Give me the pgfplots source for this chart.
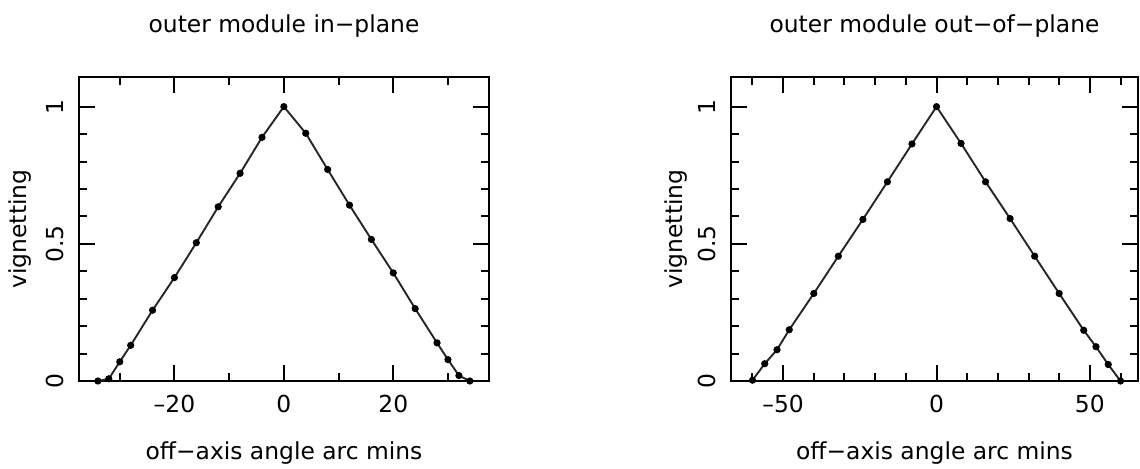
\documentclass[border=0pt]{standalone}
\usepackage{fontspec}
\setmainfont{DejaVu Sans}
\usepackage{pgfplots}
\pgfplotsset{compat=1.18}
\begin{document}
\begin{tikzpicture}
\path[use as bounding box] (0,0) rectangle (570pt,234pt);
\pgfplotsset{
 vig/.style={
  scale only axis, height=152pt, ymin=0, ymax=1.108,
  ytick={0,0.5,1}, yticklabels={0,0.5,1},
  minor ytick={0.1,0.2,0.3,0.4,0.6,0.7,0.8,0.9},
  tick align=inside, major tick length=8pt, minor tick length=4pt,
  every tick/.style={black,line width=1pt},
  axis line style={line width=1pt},
  font=\fontsize{11.7}{14}\selectfont,
  tick label style={font=\fontsize{11.7}{14}\selectfont, inner sep=0pt},
  yticklabel style={rotate=90, anchor=south},
  xticklabel style={anchor=north},
  xticklabel shift=7pt, yticklabel shift=7.5pt,
  title style={at={(axis description cs:0.5,1.108)}, anchor=base, yshift=0pt},
  xlabel style={at={(axis description cs:0.5,-0.2566)}, anchor=base},
  xlabel={off−axis angle arc mins},
  ylabel={vignetting},
  clip=false,
 },
 vigline/.style={black!85, line width=0.95pt, mark=*, mark size=1.3pt, mark options={solid, black}},
}
\begin{axis}[vig, at={(39.5pt,43.5pt)}, anchor=south west, width=205pt,
  xmin=-37.45, xmax=37.5,
  xtick={-20,0,20}, xticklabels={\textendash20,0,20},
  minor xtick={-30,-10,10,30},
  title={outer module in−plane},
  ylabel style={at={(axis description cs:-0.144,0.5)}, anchor=center}]
\addplot[vigline] coordinates {
(-34,0) (-32,0.008) (-30,0.07) (-28,0.13) (-24,0.258) (-20,0.377) (-16,0.504)
(-12,0.635) (-8,0.757) (-4,0.888) (0,1) (4,0.903) (8,0.771) (12,0.641)
(16,0.516) (20,0.394) (24,0.264) (28,0.139) (30,0.078) (32,0.02) (34,0)};
\end{axis}
\begin{axis}[vig, at={(365.5pt,43.5pt)}, anchor=south west, width=203.5pt,
  xmin=-67, xmax=65.7,
  xtick={-50,0,50}, xticklabels={\textendash50,0,50},
  minor xtick={-60,-40,-30,-20,-10,10,20,30,40,60},
  title={outer module out−of−plane},
  ylabel style={at={(axis description cs:-0.135,0.5)}, anchor=center}]
\addplot[vigline] coordinates {
(-60,0.003) (-56,0.063) (-52,0.114) (-48,0.187) (-40,0.319) (-32,0.455)
(-24,0.589) (-16,0.726) (-8,0.864) (0,1) (8,0.866) (16,0.726) (24,0.592)
(32,0.455) (40,0.319) (48,0.185) (52,0.125) (56,0.06) (60,0)};
\end{axis}
\end{tikzpicture}
\end{document}
